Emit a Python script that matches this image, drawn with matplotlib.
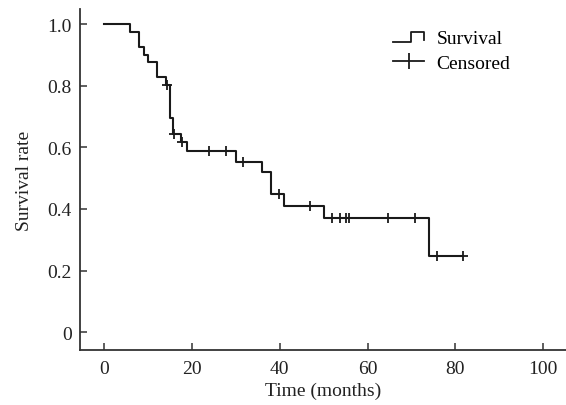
import numpy as np
import matplotlib
matplotlib.use("Agg")
import matplotlib.pyplot as plt
from matplotlib.lines import Line2D
from matplotlib.legend_handler import HandlerBase

plt.rcParams['font.family'] = ['Liberation Serif', 'DejaVu Serif']

# courbe de survie (instants des sauts et niveaux)
event_times = [0, 6, 8, 9, 10, 12, 14, 15, 15.8, 17.6, 19, 30, 36, 38, 41, 50, 74]
survival = [1.0, 0.973, 0.926, 0.900, 0.876, 0.829, 0.803, 0.695, 0.643, 0.616,
            0.587, 0.553, 0.519, 0.448, 0.410, 0.369, 0.246]
censored_times = [14.3, 15.9, 17.7, 24, 27.8, 31.7, 39.9, 46.9, 51.9, 53.8, 55,
                  55.8, 64.6, 70.8, 75.9, 81.7]
x_ticks = [0, 20, 40, 60, 80, 100]
y_ticks = [0, 0.2, 0.4, 0.6, 0.8, 1.0]
y_ticklabels = ["0", "0.2", "0.4", "0.6", "0.8", "1.0"]


class StepHandler(HandlerBase):
    # petit symbole en marche d'escalier pour la légende
    def create_artists(self, legend, orig_handle, xdescent, ydescent,
                       width, height, fontsize, trans):
        x0, y0 = -xdescent, -ydescent
        xs = [x0, x0 + 0.58 * width, x0 + 0.58 * width, x0 + width, x0 + width]
        ys = [y0 + 0.1 * height, y0 + 0.1 * height, y0 + 0.85 * height,
              y0 + 0.85 * height, y0 + 0.2 * height]
        line = Line2D(xs, ys, color=orig_handle.get_color(),
                      lw=orig_handle.get_linewidth())
        line.set_transform(trans)
        return [line]


col = '#1a1a1a'
fs = 14
fig = plt.figure(figsize=(5.66, 4.06), dpi=100)
ax = fig.add_axes([80 / 566, 55 / 406, 486 / 566, 341 / 406])

t = np.array(event_times + [censored_times[-1]])
s = np.array(survival + [survival[-1]])
ax.step(t, s, where='post', color=col, lw=1.5)

idx = np.searchsorted(event_times, censored_times, side='right') - 1
cens_y = np.array(survival)[idx]
ax.plot(censored_times, cens_y, ls='none', marker='+', color=col,
        markersize=7, markeredgewidth=1.3)

ax.set_xlim(-5.47, 105.2)
ax.set_ylim(-0.058, 1.049)
ax.set_xticks(x_ticks)
ax.set_yticks(y_ticks)
ax.set_yticklabels(y_ticklabels)
for sp in ['top', 'right']:
    ax.spines[sp].set_visible(False)
for sp in ['left', 'bottom']:
    ax.spines[sp].set_linewidth(1.3)
    ax.spines[sp].set_color('#333333')
ax.tick_params(axis='both', direction='in', length=5, width=1.1,
               colors='#333333', labelsize=fs, labelcolor='#222222')
ax.tick_params(axis='x', pad=7.5)
ax.tick_params(axis='y', pad=6)
ax.set_xlabel("Time (months)", fontsize=fs, color='#222222', labelpad=3)
ax.set_ylabel("Survival rate", fontsize=fs, color='#222222', labelpad=10)

h_surv = Line2D([], [], color=col, lw=1.3)
h_cens = Line2D([], [], color=col, lw=1.3, marker='|', markersize=11,
                markeredgewidth=1.3)
ax.legend([h_surv, h_cens], ["Survival", "Censored"],
          handler_map={h_surv: StepHandler()}, loc='upper left',
          bbox_to_anchor=(0.644, 0.94), frameon=False, fontsize=fs,
          borderpad=0, borderaxespad=0, handlelength=1.6, handletextpad=0.65,
          labelspacing=0.38, numpoints=1)

fig.savefig("out.png", dpi=100)
